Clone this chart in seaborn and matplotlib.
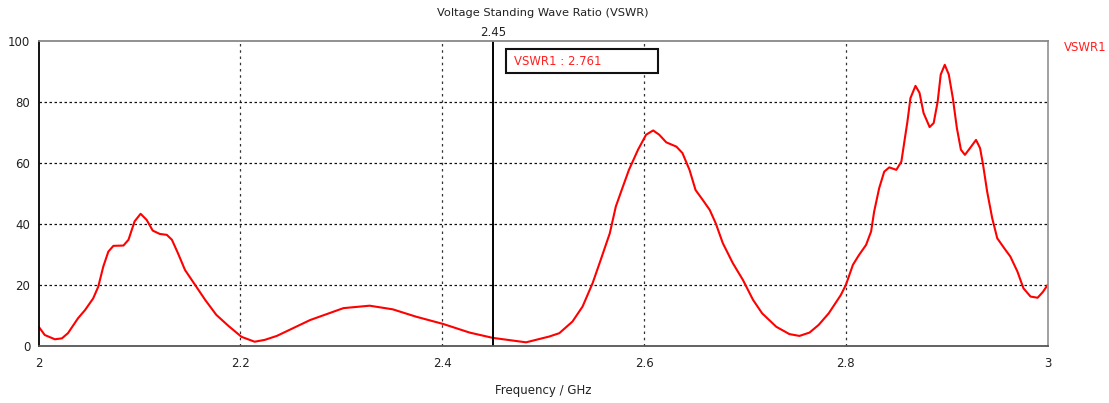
import matplotlib
matplotlib.use("Agg")
import matplotlib.pyplot as plt
from matplotlib.patches import Rectangle
import seaborn as sns
import pandas as pd

freq_ghz = [2.000, 2.006, 2.016, 2.023, 2.029, 2.039, 2.046, 2.054, 2.059, 2.064,
            2.069, 2.074, 2.084, 2.089, 2.095, 2.101, 2.107, 2.113, 2.120, 2.127,
            2.132, 2.138, 2.145, 2.155, 2.165, 2.176, 2.188, 2.201, 2.214, 2.224,
            2.236, 2.269, 2.302, 2.328, 2.351, 2.374, 2.401, 2.427, 2.450, 2.483,
            2.506, 2.516, 2.529, 2.539, 2.549, 2.557, 2.566, 2.572, 2.579, 2.585,
            2.594, 2.602, 2.609, 2.615, 2.622, 2.632, 2.638, 2.645, 2.651, 2.658,
            2.665, 2.671, 2.678, 2.688, 2.698, 2.708, 2.717, 2.731, 2.744, 2.754,
            2.764, 2.773, 2.783, 2.795, 2.800, 2.807, 2.813, 2.820, 2.825, 2.828,
            2.833, 2.838, 2.843, 2.850, 2.855, 2.858, 2.861, 2.864, 2.869, 2.873,
            2.877, 2.883, 2.887, 2.891, 2.894, 2.898, 2.902, 2.906, 2.910, 2.914,
            2.918, 2.923, 2.929, 2.933, 2.936, 2.940, 2.945, 2.950, 2.957, 2.963,
            2.970, 2.976, 2.983, 2.990, 2.995, 3.000]
vswr1 = [6.4, 3.7, 2.3, 2.6, 4.3, 9.2, 11.9, 15.7, 19.5, 26.1,
         31.0, 32.9, 33.0, 34.9, 40.9, 43.4, 41.4, 37.9, 36.8, 36.5,
         34.9, 30.5, 25.0, 20.1, 15.2, 10.3, 6.7, 3.1, 1.5, 2.1,
         3.4, 8.6, 12.5, 13.3, 12.1, 9.7, 7.3, 4.5, 2.76, 1.3,
         3.2, 4.3, 8.1, 13.0, 20.7, 28.3, 37.0, 45.8, 52.3, 57.8,
         64.4, 69.3, 70.7, 69.3, 66.8, 65.4, 63.3, 57.8, 51.2, 48.0,
         44.7, 40.3, 33.8, 27.2, 21.7, 15.2, 10.8, 6.4, 4.0, 3.4,
         4.5, 7.0, 10.8, 16.8, 20.1, 26.7, 29.9, 33.2, 37.6, 44.1,
         51.8, 57.2, 58.6, 57.8, 60.5, 67.1, 73.6, 81.3, 85.3, 83.0,
         76.4, 71.8, 73.1, 80.2, 89.0, 92.2, 89.0, 81.3, 71.5, 64.4,
         62.7, 64.9, 67.6, 64.9, 59.4, 50.7, 42.0, 35.4, 32.1, 29.4,
         24.5, 19.0, 16.3, 15.9, 17.7, 20.1]
x_ticks = [2, 2.2, 2.4, 2.6, 2.8, 3]
x_tick_labels = ["2", "2.2", "2.4", "2.6", "2.8", "3"]
y_ticks = [0, 20, 40, 60, 80, 100]
marker_freq = 2.45
marker_text = "VSWR1 : 2.761"

df = pd.DataFrame({"Frequency": freq_ghz, "VSWR1": vswr1})

sns.set_style("white")
plt.rcParams['font.family'] = ['DejaVu Sans']

fig = plt.figure(figsize=(11.09, 4.03), dpi=100)
ax = fig.add_axes([0.0349, 0.1407, 0.9098, 0.7576])

sns.lineplot(data=df, x="Frequency", y="VSWR1", ax=ax, color="#ff0000", linewidth=1.5)

ax.set_xlim(2, 3)
ax.set_ylim(0, 100)
ax.set_xticks(x_ticks)
ax.set_xticklabels(x_tick_labels)
ax.set_yticks(y_ticks)
ax.tick_params(axis="both", length=0, labelsize=8.5, colors="#222222")
ax.tick_params(axis="x", pad=8)
ax.tick_params(axis="y", pad=6)

for v in [2.2, 2.4, 2.6, 2.8]:
    ax.axvline(v, color="#333333", linestyle=(0, (2, 3)), linewidth=0.9, zorder=0)
for v in [20, 40, 60, 80]:
    ax.axhline(v, color="#111111", linestyle=(0, (2, 2)), linewidth=0.9, zorder=0)

ax.spines["left"].set_color("#000000")
ax.spines["bottom"].set_color("#555555")
ax.spines["top"].set_color("#888888")
ax.spines["right"].set_color("#999999")
for s in ax.spines.values():
    s.set_linewidth(1.3)

ax.axvline(marker_freq, color="#000000", linewidth=1.4)
ax.text(marker_freq, 102.7, "2.45", ha="center", va="center", fontsize=8.5, color="#222222")

ax.add_patch(Rectangle((0.463, 0.895), 0.151, 0.079, transform=ax.transAxes,
                       facecolor="white", edgecolor="#111111", linewidth=1.5, zorder=5))
ax.text(0.471, 0.934, marker_text, transform=ax.transAxes, ha="left", va="center",
        fontsize=8.4, color="#ff2020", zorder=6)

ax.text(1.016, 0.98, "VSWR1", transform=ax.transAxes, ha="left", va="center",
        fontsize=8.5, color="#ff2020")

ax.set_xlabel("Frequency / GHz", fontsize=8.5, color="#222222", labelpad=10)
ax.set_ylabel("")
fig.text(0.4897, 0.967, "Voltage Standing Wave Ratio (VSWR)", ha="center", va="center",
         fontsize=8.2, color="#222222")

fig.savefig("out.png", dpi=100)
